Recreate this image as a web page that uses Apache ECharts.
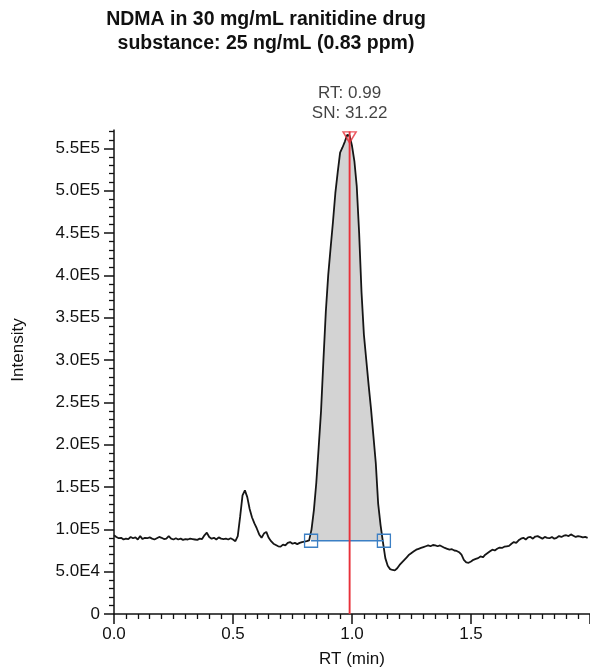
<!DOCTYPE html>
<html><head><meta charset="utf-8">
<script src="https://cdn.jsdelivr.net/npm/echarts@6/dist/echarts.min.js"></script>
<style>html,body{margin:0;padding:0;background:#fff}#c{width:590px;height:669px}</style>
</head><body><div id="c"></div>
<script>
const titleLines = ['NDMA in 30 mg/mL ranitidine drug', 'substance: 25 ng/mL (0.83 ppm)'];
const xAxisName = 'RT (min)';
const yAxisName = 'Intensity';
const xTickLabels = ['0.0', '0.5', '1.0', '1.5'];
const yTickLabels = ['0', '5.0E4', '1.0E5', '1.5E5', '2.0E5', '2.5E5', '3.0E5', '3.5E5', '4.0E5', '4.5E5', '5.0E5', '5.5E5'];

const traceRT = [
  0.00,0.01,0.02,0.03,0.04,0.05,0.06,0.07,0.08,0.09,
  0.10,0.11,0.12,0.13,0.14,0.15,0.16,0.17,0.18,0.19,
  0.20,0.21,0.22,0.23,0.24,0.25,0.26,0.27,0.28,0.29,
  0.30,0.31,0.32,0.33,0.34,0.35,0.36,0.37,0.38,0.39,
  0.40,0.41,0.42,0.43,0.44,0.45,0.46,0.47,0.48,0.49,
  0.50,0.51,0.52,0.53,0.54,0.55,0.56,0.57,0.58,0.59,
  0.60,0.61,0.62,0.63,0.64,0.65,0.66,0.67,0.68,0.69,
  0.70,0.71,0.72,0.73,0.74,0.75,0.76,0.77,0.78,0.79,
  0.80,0.81,0.82,0.83,0.84,0.85,0.86,0.87,0.88,0.89,
  0.90,0.91,0.92,0.93,0.94,0.95,0.96,0.97,0.98,0.985,0.99,
  1.00,1.01,1.02,1.03,1.04,1.05,1.06,1.07,1.08,1.09,
  1.10,1.11,1.12,1.13,1.14,1.15,1.16,1.17,1.18,1.19,
  1.20,1.21,1.22,1.23,1.24,1.25,1.26,1.27,1.28,1.29,
  1.30,1.31,1.32,1.33,1.34,1.35,1.36,1.37,1.38,1.39,
  1.40,1.41,1.42,1.43,1.44,1.45,1.46,1.47,1.48,1.49,
  1.50,1.51,1.52,1.53,1.54,1.55,1.56,1.57,1.58,1.59,
  1.60,1.61,1.62,1.63,1.64,1.65,1.66,1.67,1.68,1.69,
  1.70,1.71,1.72,1.73,1.74,1.75,1.76,1.77,1.78,1.79,
  1.80,1.81,1.82,1.83,1.84,1.85,1.86,1.87,1.88,1.89,
  1.90,1.91,1.92,1.93,1.94,1.95,1.96,1.97,1.98,1.99
];
const traceIntensity = [
  93000,91000,89500,90000,88000,89000,88500,91000,89500,90500,
  88000,92000,88500,90000,89500,90500,89000,88000,89500,91000,
  90000,88500,89000,92000,89000,88000,89500,88000,89000,87500,
  88500,88000,89000,88500,88000,87500,89000,88500,93000,96000,
  91000,89000,90000,88000,90500,89000,88500,89000,88000,89500,
  88000,86000,92000,115000,140000,146000,138000,124000,114000,107000,
  101000,94000,90000,95000,97000,90000,86000,83000,81500,80000,
  79500,82000,81000,84000,85000,83000,84000,82500,84000,85000,
  85500,86000,87000,100000,123000,155000,197000,240000,300000,357000,
  400000,432000,463000,497000,522000,545000,551000,558000,566000,568000,565000,
  553000,535000,505000,450000,380000,330000,300000,270000,242000,210000,
  178000,130000,105000,85000,66000,57000,53000,52000,51500,54000,
  58000,61000,64000,67000,70000,72000,74000,76000,77000,78000,
  79000,80000,81000,80000,81500,81000,80000,81000,79500,78000,
  77000,76000,76500,75000,74500,73000,70000,64000,61000,60500,
  62000,64000,65000,66000,68000,67000,70000,72000,74000,76000,
  75000,77000,78500,78000,79500,80000,80500,83000,85000,84000,
  87000,89000,90000,88000,90500,91000,89000,91500,92000,90500,
  89000,91000,90000,89500,91000,89000,90000,92000,91000,92500,
  93000,92000,94000,92500,91000,92000,91500,90500,91000,90000
];

const peakRT = 0.99;
const peakMarkerLevel = 563000;
const peakLineTop = 570000;
const peakLabels = ['RT: 0.99', 'SN: 31.22'];
const integStart = 0.828;
const integEnd = 1.134;
const integBase = 86500;

const trace = traceRT.map((t, i) => [t, traceIntensity[i]]);
const fillData = [[integStart, integBase]]
  .concat(trace.filter(p => p[0] > integStart && p[0] < integEnd).map(p => [p[0], Math.max(p[1], integBase)]))
  .concat([[integEnd, integBase]]);

const FONT = '"Liberation Sans", Arial, Helvetica, sans-serif';
const AXC = '#111';

const chart = echarts.init(document.getElementById('c'), null, {renderer: 'canvas'});
chart.setOption({
  animation: false,
  backgroundColor: '#fff',
  title: {
    text: titleLines.join('\n'),
    left: 261, top: 3, textAlign: 'center',
    textStyle: {fontFamily: FONT, fontSize: 19.5, fontWeight: 'bold', color: '#111', lineHeight: 24}
  },
  grid: {left: 114, right: 0, top: 106, bottom: 55, containLabel: false, outerBoundsMode: 'none'},
  xAxis: {
    type: 'value', min: 0, max: 2.0, interval: 0.5,
    name: xAxisName, nameLocation: 'middle', nameGap: 37,
    nameTextStyle: {fontFamily: FONT, fontSize: 17, color: AXC},
    axisLine: {onZero: false, lineStyle: {color: AXC, width: 1.5}},
    axisTick: {length: 10, lineStyle: {color: AXC, width: 1.5}},
    minorTick: {show: true, splitNumber: 10, length: 5, lineStyle: {color: AXC, width: 1.3}},
    splitLine: {show: false},
    axisLabel: {
      margin: 12, fontFamily: FONT, fontSize: 17, color: AXC,
      formatter: v => { const i = Math.round(v / 0.5); return xTickLabels[i] !== undefined && Math.abs(v - i * 0.5) < 1e-6 ? xTickLabels[i] : ''; }
    }
  },
  yAxis: {
    type: 'value', min: 0, max: 600000, interval: 50000,
    name: yAxisName, nameLocation: 'middle', nameGap: 87,
    nameTextStyle: {fontFamily: FONT, fontSize: 17, color: AXC, padding: [0, 0, 0, 20]},
    axisLine: {onZero: false, lineStyle: {color: AXC, width: 1.5}},
    axisTick: {length: 10, lineStyle: {color: AXC, width: 1.5}},
    minorTick: {show: true, splitNumber: 5, length: 5, lineStyle: {color: AXC, width: 1.3}},
    splitLine: {show: false},
    axisLabel: {
      margin: 14, fontFamily: FONT, fontSize: 17, color: AXC,
      formatter: v => { const i = Math.round(v / 50000); return yTickLabels[i] !== undefined ? yTickLabels[i] : ''; }
    }
  },
  graphic: [{
    type: 'rect', z: 100, silent: true,
    shape: {x: 95, y: 80, width: 30, height: 49.5},
    style: {fill: '#fff'}
  }],
  series: [
    {
      type: 'line', name: 'area', data: fillData, showSymbol: false, z: 1,
      lineStyle: {width: 0, opacity: 0},
      areaStyle: {color: '#d3d3d3', opacity: 1, origin: integBase}
    },
    {
      type: 'line', name: 'trace', data: trace, showSymbol: false, z: 3,
      lineStyle: {color: '#161616', width: 1.8}
    },
    {
      type: 'line', name: 'baseline', data: [[integStart, integBase], [integEnd, integBase]], z: 4,
      symbol: 'rect', symbolSize: 13,
      lineStyle: {color: '#3b7fc4', width: 1.5},
      itemStyle: {color: 'rgba(0,0,0,0)', borderColor: '#3b7fc4', borderWidth: 1.3}
    },
    {
      type: 'line', name: 'rtline', data: [[peakRT, 0], [peakRT, peakLineTop]], showSymbol: false, z: 5,
      lineStyle: {color: '#e8303a', width: 1.9}
    },
    {
      type: 'scatter', name: 'apex', data: [[peakRT, peakMarkerLevel]], z: 6,
      symbol: 'triangle', symbolRotate: 180, symbolSize: [13, 11],
      itemStyle: {color: 'rgba(0,0,0,0)', borderColor: '#e8303a', borderWidth: 1.5},
      label: {
        show: true, position: 'top', distance: 8,
        formatter: peakLabels.join('\n'),
        fontFamily: FONT, fontSize: 17, lineHeight: 20, color: '#111', align: 'center'
      }
    }
  ]
});
</script></body></html>
